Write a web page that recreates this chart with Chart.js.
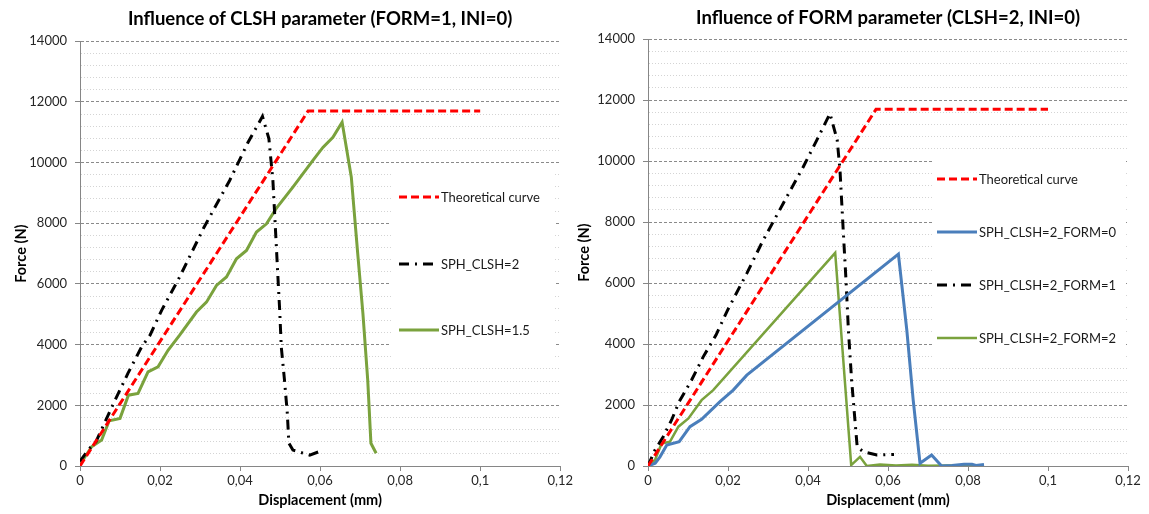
<!DOCTYPE html>
<html>
<head>
<meta charset="utf-8">
<script src="https://cdn.jsdelivr.net/npm/chart.js@4/dist/chart.umd.min.js"></script>
<style>
  body { margin: 0; background: #fff; }
  #wrap { position: relative; width: 1149px; height: 514px; }
  .box { position: absolute; top: 0; height: 514px; }
</style>
</head>
<body>
<div id="wrap">
  <div class="box" style="left:0;width:575px"><canvas id="left"></canvas></div>
  <div class="box" style="left:575px;width:574px"><canvas id="right"></canvas></div>
</div>
<script>
// x axis ticks (mm) and y range (N)
const xTicks = [0, 0.02, 0.04, 0.06, 0.08, 0.1, 0.12];
const yMax = 14000;

// left chart: influence of CLSH
const theoX = [0, 0.057, 0.1];
const theoY = [0, 11700, 11700];

const clsh2X = [0, 0.002, 0.004, 0.0083, 0.012, 0.0154, 0.0175, 0.0204, 0.0249, 0.031, 0.0374, 0.042, 0.0456, 0.0472, 0.0482, 0.0489, 0.0495, 0.0499, 0.0503, 0.0511, 0.0518, 0.0522, 0.0532, 0.0574, 0.0597];
const clsh2Y = [150, 525, 800, 2040, 3060, 3925, 4310, 5130, 6230, 7870, 9410, 10670, 11520, 10790, 9410, 7660, 6120, 5130, 3920, 2830, 1740, 750, 525, 360, 470];

const clsh15X = [0, 0.0029, 0.0054, 0.0073, 0.01, 0.0121, 0.0145, 0.017, 0.0195, 0.022, 0.0249, 0.0291, 0.0316, 0.0341, 0.0366, 0.0391, 0.0416, 0.0441, 0.0466, 0.049, 0.0532, 0.0582, 0.0607, 0.0632, 0.0655, 0.0678, 0.0694, 0.0707, 0.0719, 0.0727, 0.074];
const clsh15Y = [50, 635, 855, 1490, 1570, 2335, 2390, 3100, 3270, 3815, 4310, 5075, 5400, 5950, 6230, 6830, 7105, 7710, 7980, 8480, 9190, 10070, 10500, 10830, 11330, 9520, 7000, 5020, 2830, 750, 420];

// right chart: influence of FORM
const form0X = [0, 0.0018, 0.003, 0.0047, 0.0078, 0.0105, 0.0134, 0.018, 0.0213, 0.0247, 0.0626, 0.0647, 0.0663, 0.068, 0.0709, 0.0734, 0.076, 0.079, 0.081, 0.082, 0.084];
const form0Y = [0, 90, 300, 690, 800, 1290, 1530, 2110, 2490, 2980, 6950, 4460, 2160, 90, 360, 0, 20, 60, 60, 20, 50];

const form1X = [0, 0.00175, 0.0038, 0.0059, 0.0078, 0.0109, 0.0138, 0.017, 0.0199, 0.0247, 0.0288, 0.0338, 0.0388, 0.0422, 0.0455, 0.0473, 0.048, 0.0488, 0.0495, 0.0501, 0.0509, 0.0518, 0.0523, 0.0538, 0.0572, 0.0615];
const form1Y = [0, 525, 960, 1510, 2110, 2820, 3580, 4295, 5115, 6320, 7410, 8610, 9810, 10690, 11560, 10690, 9700, 7740, 6100, 4460, 2820, 1400, 630, 470, 360, 380];

const form2X = [0, 0.00175, 0.0034, 0.0055, 0.0076, 0.0101, 0.0134, 0.0163, 0.0468, 0.0508, 0.053, 0.0547, 0.058, 0.062, 0.066, 0.07, 0.075, 0.08, 0.0833];
const form2Y = [0, 200, 740, 800, 1290, 1560, 2160, 2490, 6990, 30, 300, 0, 50, 20, 40, 10, 20, 10, 0];

const FONT = 'Lato, "Open Sans", sans-serif';

function pts(xs, ys){
    return xs.map((x, i) => ({x: x, y: ys[i]}));
}

function series(label, xs, ys, color, width, dash){
    return {
        label: label,
        data: pts(xs, ys),
        borderColor: color,
        backgroundColor: color,
        borderWidth: width,
        borderDash: dash || [],
        showLine: true,
        pointRadius: 0,
        tension: 0,
        fill: false
    };
}

function isMajor(v){
    return Math.abs(v % 2000) < 1e-6;
}

// white legend box inside the plot, drawn before the lines
const boxLegend = {
    id: 'boxLegend',
    beforeDatasetsDraw(chart, args, o){
        const ctx = chart.ctx;
        ctx.save();
        ctx.fillStyle = '#fff';
        ctx.fillRect(o.x, o.y, o.w, o.h);
        ctx.font = '13px ' + FONT;
        ctx.textBaseline = 'middle';
        chart.data.datasets.forEach((ds, i) => {
            const y = o.rows[i];
            ctx.beginPath();
            ctx.setLineDash(ds.borderDash || []);
            ctx.lineWidth = ds.borderWidth;
            ctx.strokeStyle = ds.borderColor;
            ctx.moveTo(o.sx, y);
            ctx.lineTo(o.sx + 40, y);
            ctx.stroke();
            ctx.setLineDash([]);
            ctx.fillStyle = '#1a1a1a';
            ctx.fillText(ds.label, o.sx + 42, y + 1);
        });
        ctx.restore();
    }
};

function forceChart(id, title, datasets, lay){
    const config = {
        type: 'scatter',
        data: { datasets: datasets },
        options: {
            responsive: false,
            animation: false,
            devicePixelRatio: 1,
            layout: { padding: { left: 0, right: lay.padRight, top: 0, bottom: 0 } },
            plugins: {
                legend: { display: false },
                tooltip: { enabled: false },
                title: {
                    display: true,
                    text: title,
                    fullSize: false,
                    color: '#000',
                    font: { family: FONT, size: 18.5, weight: 'bold' },
                    padding: { top: lay.titleTop, bottom: lay.titleBottom }
                },
                boxLegend: lay.legend
            },
            scales: {
                x: {
                    type: 'linear',
                    min: xTicks[0],
                    max: xTicks[xTicks.length - 1],
                    afterFit: s => { s.height = 48; },
                    afterBuildTicks: s => { s.ticks = xTicks.map(v => ({value: v})); },
                    ticks: {
                        color: '#262626',
                        font: { family: FONT, size: 13 },
                        padding: 2,
                        maxRotation: 0,
                        autoSkip: false,
                        callback: v => String(Number(v.toFixed(2))).replace('.', ',')
                    },
                    grid: {
                        drawOnChartArea: false,
                        drawTicks: true,
                        tickLength: 5,
                        tickColor: '#868686'
                    },
                    border: { display: true, color: '#868686', width: 1 },
                    title: {
                        display: true,
                        text: 'Displacement (mm)',
                        color: '#000',
                        font: { family: FONT, size: 14.5, weight: 'bold' },
                        padding: { top: 0, bottom: 5 }
                    }
                },
                y: {
                    type: 'linear',
                    min: 0,
                    max: yMax,
                    afterFit: s => { s.width = lay.yWidth; },
                    ticks: {
                        stepSize: 400,
                        autoSkip: false,
                        color: '#262626',
                        font: { family: FONT, size: 13 },
                        padding: 8,
                        callback: v => isMajor(v) ? String(v) : ''
                    },
                    grid: {
                        color: c => (c.tick && isMajor(c.tick.value)) ? '#8a8a8a' : '#d4d4d4',
                        lineWidth: 1,
                        tickLength: 5,
                        tickColor: c => (c.tick && isMajor(c.tick.value)) ? '#868686' : 'rgba(0,0,0,0)'
                    },
                    border: {
                        display: true,
                        color: '#868686',
                        width: 1,
                        dash: c => c.tick ? (isMajor(c.tick.value) ? [3, 2] : [1, 2]) : []
                    },
                    title: {
                        display: true,
                        text: 'Force (N)',
                        color: '#000',
                        font: { family: FONT, size: 14.5, weight: 'bold' },
                        padding: { top: lay.yTitlePad, bottom: 0 }
                    }
                }
            }
        },
        plugins: [boxLegend]
    };

    const canvas = document.getElementById(id);
    canvas.width = lay.width;
    canvas.height = 514;
    new Chart(canvas.getContext('2d'), config);
}

const RED = '#ff0000', BLACK = '#000000', GREEN = '#7aa23d', BLUE = '#4a7ebb';
const DASH = [8, 4], DASHDOT = [10, 6, 2, 6];

forceChart('left', 'Influence of CLSH parameter (FORM=1, INI=0)', [
    series('Theoretical curve', theoX, theoY, RED, 3, DASH),
    series('SPH_CLSH=2', clsh2X, clsh2Y, BLACK, 3, DASHDOT),
    series('SPH_CLSH=1.5', clsh15X, clsh15Y, GREEN, 3)
], {
    width: 575, padRight: 14, yWidth: 80, titleTop: 8, titleBottom: 11, yTitlePad: 13,
    legend: { x: 391, y: 166, w: 164, h: 200, sx: 399, rows: [197, 264, 330] }
});

forceChart('right', 'Influence of FORM parameter (CLSH=2, INI=0)', [
    series('Theoretical curve', theoX, theoY, RED, 3, DASH),
    series('SPH_CLSH=2_FORM=0', form0X, form0Y, BLUE, 3),
    series('SPH_CLSH=2_FORM=1', form1X, form1Y, BLACK, 3, DASHDOT),
    series('SPH_CLSH=2_FORM=2', form2X, form2Y, GREEN, 2.5)
], {
    width: 574, padRight: 21, yWidth: 73, titleTop: 7, titleBottom: 10, yTitlePad: 1,
    legend: { x: 358, y: 155, w: 193, h: 207, sx: 362, rows: [179, 232, 285, 338] }
});
</script>
</body>
</html>
